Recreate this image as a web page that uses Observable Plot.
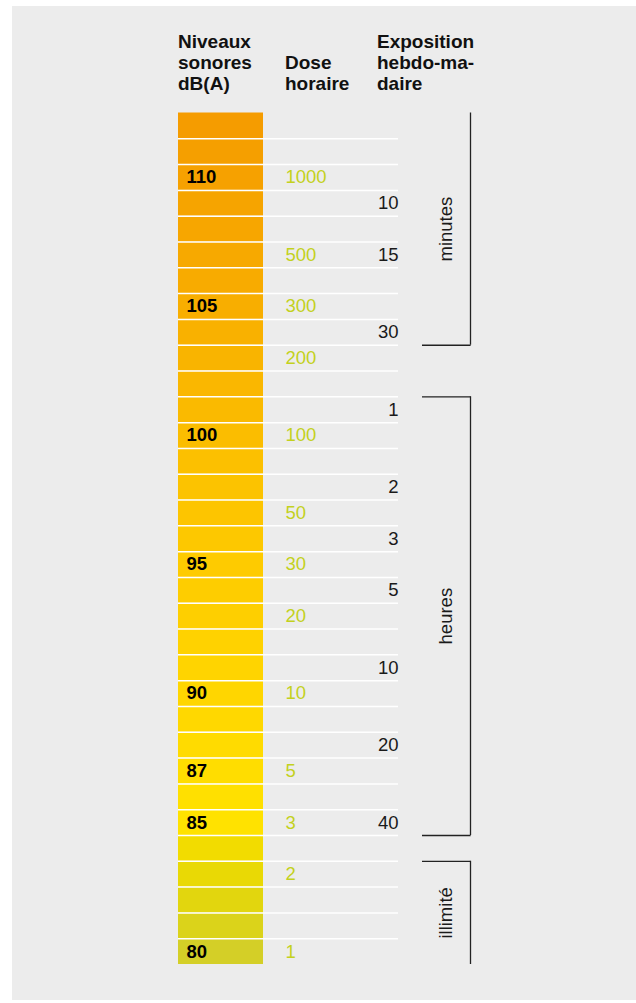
<!DOCTYPE html>
<html><head><meta charset="utf-8">
<script src="https://cdn.jsdelivr.net/npm/d3@7"></script>
<script src="https://cdn.jsdelivr.net/npm/@observablehq/plot@0.6"></script>
<style>
html,body{margin:0;padding:0;background:#fff;}
#wrap{position:relative;width:636px;height:1003px;overflow:hidden;font-family:"Liberation Sans",Arial,Helvetica,sans-serif;}
#panel{position:absolute;left:12px;top:6px;width:624px;height:994px;background:#ececec;}
.hd{position:absolute;font-weight:bold;font-size:19px;line-height:21px;color:#111;white-space:nowrap;}
#chart{position:absolute;left:0;top:0;}
</style></head><body>
<div id="wrap">
<div id="panel"></div>
<div class="hd" style="left:178px;top:31px">Niveaux<br>sonores<br>dB(A)</div>
<div class="hd" style="left:285px;top:52px">Dose<br>horaire</div>
<div class="hd" style="left:377px;top:31px">Exposition<br>hebdo-ma-<br>daire</div>
<div id="chart"></div>
</div>
<script>
// Sound levels (rows), top to bottom
const levels = [112,111,110,109,108,107,106,105,104,103,102,101,100,99,98,97,96,95,94,93,92,91,90,89,88,87,86,85,84,83,82,81,80];
// dB(A) labels shown in the bar
const dbLabels = [110,105,100,95,90,87,85,80];
// Dose horaire
const doseLevels = [110,107,105,103,100,97,95,93,90,87,85,83,80];
const doseValues = [1000,500,300,200,100,50,30,20,10,5,3,2,1];
// Exposition hebdomadaire
const expoLevels = [109,107,104,101,98,96,94,91,88,85];
const expoValues = [10,15,30,1,2,3,5,10,20,40];
// Bracket groups
const groupLabels = ["minutes","heures","illimité"];
const groupFrom = [112,101,83];
const groupTo = [104,85,80];
const groupTickTop = [false,true,true];
const groupTickBottom = [true,true,false];

const dose = doseLevels.map((l,i)=>({level:l, value:doseValues[i]}));
const expo = expoLevels.map((l,i)=>({level:l, value:expoValues[i]}));
const groups = groupLabels.map((g,i)=>({label:g, from:groupFrom[i], to:groupTo[i], top:groupTickTop[i], bottom:groupTickBottom[i]}));

const L = {barX1:178, barX2:263, lineX2:398, dbX:186, doseX:285, expoX:398, brX1:422, brX2:470, brLabelX:446};
const font = "Liberation Sans, Arial, Helvetica, sans-serif";

const chart = Plot.plot({
  width: 636, height: 1003, margin: 0,
  style: {background: "transparent", fontFamily: font, overflow: "visible"},
  x: {type: "linear", domain: [0, 636], range: [0, 636], axis: null},
  y: {type: "linear", domain: [112.5, 79.5], range: [112.5, 964], axis: null},
  color: {type: "linear", domain: [80, 81, 82, 83, 84, 85, 90, 95, 100, 105, 112],
          range: ["#d4cf27","#dbd31a","#e2d60e","#e9d905","#f2dc00","#ffe200","#ffd600","#fecb00","#fbbd00","#f8ae00","#f59c00"]},
  marks: [
    Plot.rect(levels, {x1: L.barX1, x2: L.barX2, y1: d => d + 0.5, y2: d => d - 0.5, fill: d => d}),
    Plot.ruleY(levels.slice(1), {y: d => d + 0.5, x1: L.barX1, x2: L.lineX2, stroke: "#ffffff", strokeWidth: 1.5}),
    Plot.text(dbLabels, {x: L.dbX, y: d => d, text: d => String(d), textAnchor: "start", fontWeight: "bold", fontSize: 18.5, fill: "#000"}),
    Plot.text(dose, {x: L.doseX, y: "level", text: d => String(d.value), textAnchor: "start", fontSize: 18.5, fill: "#c3d11d"}),
    Plot.text(expo, {x: L.expoX, y: "level", text: d => String(d.value), textAnchor: "end", fontSize: 18.5, fill: "#1a1a1a"}),
    Plot.ruleX(groups, {x: L.brX2, y1: d => d.from + 0.5, y2: d => d.to - 0.5, stroke: "#222", strokeWidth: 1.3}),
    Plot.ruleY(groups.filter(d => d.top), {y: d => d.from + 0.5, x1: L.brX1, x2: L.brX2 + 0.6, stroke: "#222", strokeWidth: 1.3}),
    Plot.ruleY(groups.filter(d => d.bottom), {y: d => d.to - 0.5, x1: L.brX1, x2: L.brX2 + 0.6, stroke: "#222", strokeWidth: 1.3}),
    Plot.text(groups, {x: L.brLabelX, y: d => (d.from + d.to) / 2, text: "label", rotate: -90, fontSize: 18.5, fill: "#1a1a1a"})
  ]
});
document.getElementById("chart").appendChild(chart);
</script>
</body></html>
